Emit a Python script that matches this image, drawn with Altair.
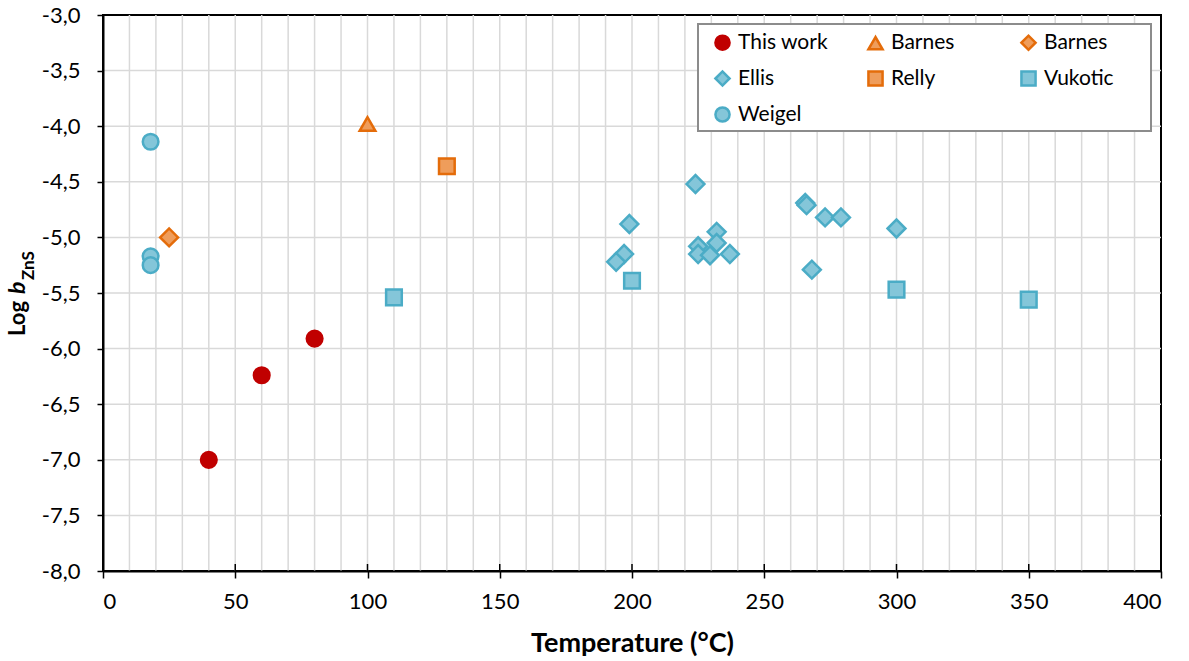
import altair as alt
import pandas as pd

# Series keys (the two Barnes data sets share a display name)
series_names = ["This work", "Barnes (a)", "Barnes (b)", "Ellis", "Relly", "Vukotic", "Weigel"]

this_work_t = [40, 60, 80]
this_work_logb = [-7.00, -6.24, -5.91]

barnes_a_t = [100]
barnes_a_logb = [-3.98]

barnes_b_t = [25]
barnes_b_logb = [-5.00]

ellis_t = [224, 199, 197, 194, 225, 225, 229.5, 232, 232, 237, 265.5, 266, 273, 279, 300, 268]
ellis_logb = [-4.52, -4.88, -5.15, -5.22, -5.08, -5.15, -5.16, -4.95, -5.05, -5.15,
              -4.69, -4.71, -4.82, -4.82, -4.92, -5.29]

relly_t = [130]
relly_logb = [-4.36]

vukotic_t = [110, 200, 300, 350]
vukotic_logb = [-5.54, -5.39, -5.47, -5.56]

weigel_t = [18, 18, 18]
weigel_logb = [-4.14, -5.17, -5.25]

stroke_colors = ["#C00000", "#E46C0A", "#E46C0A", "#4BACC6", "#E46C0A", "#4BACC6", "#4BACC6"]
fill_colors = ["#C00000", "#EF9D5B", "#EF9D5B", "#84C6D9", "#EF9D5B", "#84C6D9", "#84C6D9"]
shapes = ["circle", "triangle-up", "diamond", "diamond", "square", "square", "circle"]

x_tick_values = [0, 50, 100, 150, 200, 250, 300, 350, 400]
x_grid_values = [v for v in range(10, 400, 10)]
y_tick_values = [-8.0, -7.5, -7.0, -6.5, -6.0, -5.5, -5.0, -4.5, -4.0, -3.5, -3.0]
y_grid_values = [-7.5, -7.0, -6.5, -6.0, -5.5, -5.0, -4.5, -4.0, -3.5]

W, H = 1058, 556
FONT = "Lato"

frames = []
for name, ts, vals in [
    ("This work", this_work_t, this_work_logb),
    ("Barnes (a)", barnes_a_t, barnes_a_logb),
    ("Barnes (b)", barnes_b_t, barnes_b_logb),
    ("Ellis", ellis_t, ellis_logb),
    ("Relly", relly_t, relly_logb),
    ("Vukotic", vukotic_t, vukotic_logb),
    ("Weigel", weigel_t, weigel_logb),
]:
    frames.append(pd.DataFrame({"series": name, "t": ts, "logb": vals}))
df = pd.concat(frames, ignore_index=True)
diamond_series = ["Barnes (b)", "Ellis"]
df_diamond = df[df["series"].isin(diamond_series)]
df_other = df[~df["series"].isin(diamond_series)]

x_scale = alt.Scale(domain=[0, 400], nice=False)
y_scale = alt.Scale(domain=[-8, -3], nice=False, zero=False)

legend = alt.Legend(
    title=None,
    orient="none",
    legendX=609,
    legendY=17,
    direction="horizontal",
    columns=3,
    gridAlign="all",
    columnPadding=34,
    rowPadding=11,
    padding=0,
    labelFont=FONT,
    labelFontSize=21,
    labelColor="#000000",
    labelOffset=5,
    symbolSize=200,
    symbolStrokeWidth=2.5,
    labelExpr="substring(datum.label, 0, 6) === 'Barnes' ? 'Barnes' : datum.label",
)

x_enc = alt.X(
    "t:Q",
    scale=x_scale,
    axis=alt.Axis(
        title="Temperature (°C)",
        values=x_tick_values,
        format="d",
        grid=False,
        tickSize=7,
        tickWidth=1.5,
        tickColor="#000000",
        domainColor="#000000",
        domainWidth=2,
        labelFont=FONT,
        labelFontSize=22,
        labelColor="#000000",
        labelPadding=13,
        titleFont=FONT,
        titleFontSize=27,
        titleFontWeight="bold",
        titleColor="#000000",
        titlePadding=18,
        zindex=2,
    ),
)
y_enc = alt.Y(
    "logb:Q",
    scale=y_scale,
    axis=alt.Axis(
        title=None,
        values=y_tick_values,
        labelExpr="replace(replace(format(datum.value, '.1f'), '.', ','), '\u2212', '-')",
        grid=False,
        tickSize=6,
        tickWidth=1.5,
        tickColor="#000000",
        domainColor="#000000",
        domainWidth=2,
        labelFont=FONT,
        labelFontSize=22,
        labelColor="#000000",
        labelPadding=17,
        zindex=2,
    ),
)
stroke_enc = alt.Stroke("series:N", scale=alt.Scale(domain=series_names, range=stroke_colors), legend=legend)
fill_enc = alt.Fill("series:N", scale=alt.Scale(domain=series_names, range=fill_colors), legend=legend)
shape_enc = alt.Shape("series:N", scale=alt.Scale(domain=series_names, range=shapes), legend=legend)

# light grey gridlines
vgrid = alt.Chart(pd.DataFrame({"t": x_grid_values})).mark_rule(
    color="#D9D9D9", strokeWidth=1.5
).encode(x=alt.X("t:Q", scale=x_scale), y=alt.value(0), y2=alt.value(H))

hgrid = alt.Chart(pd.DataFrame({"logb": y_grid_values})).mark_rule(
    color="#D9D9D9", strokeWidth=1.5
).encode(y=alt.Y("logb:Q", scale=y_scale), x=alt.value(0), x2=alt.value(W))

# inner half of the crossing x ticks
inner_ticks = alt.Chart(pd.DataFrame({"t": x_tick_values})).mark_rule(
    color="#000000", strokeWidth=1.5
).encode(x=alt.X("t:Q", scale=x_scale), y=alt.value(H - 7), y2=alt.value(H))

# legend frame
legend_box = alt.Chart(pd.DataFrame({"k": [0]})).mark_rect(
    fill="white", stroke="#8C8C8C", strokeWidth=2
).encode(x=alt.value(595), x2=alt.value(1048), y=alt.value(9), y2=alt.value(116))

points_other = alt.Chart(df_other).mark_point(
    size=245, strokeWidth=2.5, opacity=1, fillOpacity=1, strokeOpacity=1
).encode(x=x_enc, y=y_enc, stroke=stroke_enc, fill=fill_enc, shape=shape_enc)

points_diamond = alt.Chart(df_diamond).mark_point(
    size=320, strokeWidth=2.5, opacity=1, fillOpacity=1, strokeOpacity=1
).encode(x=x_enc, y=y_enc, stroke=stroke_enc, fill=fill_enc, shape=shape_enc)

# y-axis title: "Log b" with subscript ZnS, rotated
title_log = alt.Chart(pd.DataFrame({"s": ["Log"]})).mark_text(
    angle=270, align="left", baseline="alphabetic", font=FONT, fontSize=22,
    fontWeight="bold", color="#000000"
).encode(text="s:N", x=alt.value(-78), y=alt.value(321))

title_b = alt.Chart(pd.DataFrame({"s": ["b"]})).mark_text(
    angle=270, align="left", baseline="alphabetic", font=FONT, fontSize=23,
    fontWeight="bold", fontStyle="italic", color="#000000"
).encode(text="s:N", x=alt.value(-78), y=alt.value(279))

title_sub = alt.Chart(pd.DataFrame({"s": ["ZnS"]})).mark_text(
    angle=270, align="left", baseline="alphabetic", font=FONT, fontSize=17,
    fontWeight="bold", color="#000000"
).encode(text="s:N", x=alt.value(-69), y=alt.value(265))

chart = alt.layer(
    vgrid, hgrid, legend_box, inner_ticks, points_other, points_diamond,
    title_log, title_b, title_sub
).properties(
    width=W,
    height=H,
    autosize=alt.AutoSizeParams(type="none"),
    padding={"left": 103, "top": 15, "right": 28, "bottom": 90},
    background="white",
).configure_view(stroke="#000000", strokeWidth=2)

chart.save("out.html", embed_options={"renderer": "svg", "actions": False})
